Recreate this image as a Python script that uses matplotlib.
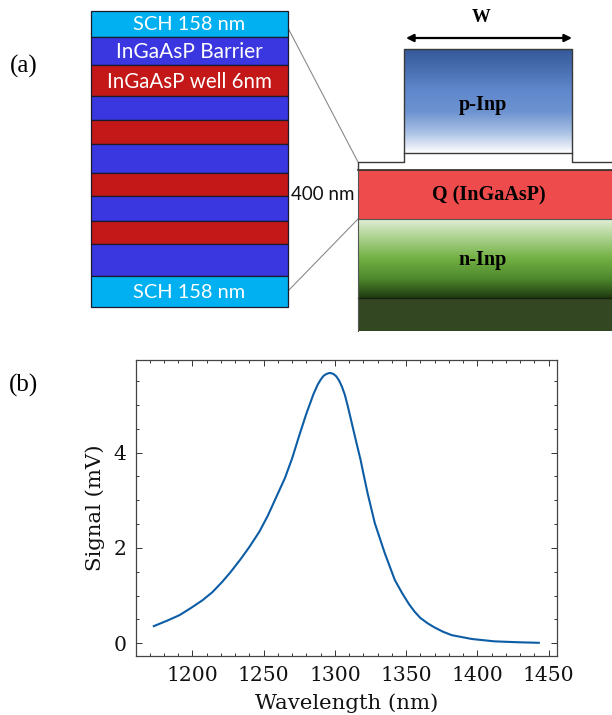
import numpy as np
import matplotlib
matplotlib.use("Agg")
import matplotlib.pyplot as plt
from matplotlib.colors import LinearSegmentedColormap
from matplotlib.patches import Rectangle
from matplotlib.ticker import MultipleLocator

W, H = 612, 715

# Spectrum
wavelength = [1173, 1182, 1191, 1199, 1207, 1214, 1221, 1227, 1234, 1240, 1247, 1253, 1258, 1265, 1270, 1275, 1280, 1285,
              1288, 1290, 1292, 1294, 1296, 1297, 1299, 1301, 1303, 1305, 1307, 1309, 1312, 1315,
              1318, 1320, 1323, 1328, 1335, 1342, 1347, 1352,
              1356, 1360, 1365, 1370, 1376, 1382, 1396, 1412, 1430, 1443]
signal = [0.36, 0.47, 0.59, 0.74, 0.90, 1.07, 1.29, 1.50, 1.77, 2.02, 2.34, 2.68, 3.01, 3.47, 3.88, 4.36, 4.82, 5.23,
          5.43, 5.53, 5.61, 5.65, 5.67, 5.67, 5.65, 5.6, 5.51, 5.38, 5.21, 4.98, 4.6, 4.22,
          3.85, 3.56, 3.14, 2.52, 1.89, 1.33, 1.06, 0.82,
          0.66, 0.53, 0.42, 0.33, 0.24, 0.17, 0.09, 0.04, 0.02, 0.01]
x_ticks = [1200, 1250, 1300, 1350, 1400, 1450]
y_ticks = [0, 2, 4]

# Schematic: layer stack (top edge, bottom edge, colour, label)
stack_edges = [11, 37, 65, 96, 120, 144, 173, 196, 221, 244, 276, 307]
SCH, BAR, WELL = "#00B0F0", "#3A36E0", "#C41818"
stack_colors = [SCH, BAR, WELL, BAR, WELL, BAR, WELL, BAR, WELL, BAR, SCH]
stack_labels = {0: "SCH 158 nm", 1: "InGaAsP Barrier", 2: "InGaAsP well 6nm", 10: "SCH 158 nm"}
p_stops = ["#35599A", "#4A70B2", "#6088CC", "#6C92D0", "#A8C0E4", "#FFFFFF"]
n_stops = ["#E0EED6", "#A8D08A", "#72B043", "#4F8A2E", "#1F3A10"]

plt.rcParams["font.family"] = "DejaVu Serif"
fig = plt.figure(figsize=(W / 100, H / 100), dpi=100)

# Pixel-space overlay for the diagram
bg = fig.add_axes([0, 0, 1, 1])
bg.set_xlim(0, W)
bg.set_ylim(H, 0)
bg.axis("off")


def grad(stops, x0, x1, y0, y1):
    cmap = LinearSegmentedColormap.from_list("g", stops)
    bg.imshow(np.linspace(0, 1, 256)[:, None], cmap=cmap, aspect="auto",
              extent=(x0, x1, y1, y0), zorder=1, interpolation="bilinear")


sx0, sx1 = 91, 288
label_sizes = {0: 14.4, 1: 15, 2: 14.8, 10: 14.4}
for i, c in enumerate(stack_colors):
    y0, y1 = stack_edges[i], stack_edges[i + 1]
    bg.add_patch(Rectangle((sx0, y0), sx1 - sx0, y1 - y0, fc=c, ec="#1a1a2a", lw=0.9, zorder=2))
    if i in stack_labels:
        bg.text((sx0 + sx1) / 2, (y0 + y1) / 2 + 1, stack_labels[i], color="white",
                ha="center", va="center", fontsize=label_sizes[i], family="Lato", zorder=3)

# Connector lines
bg.plot([288, 358], [28, 162], color="#8a8a8a", lw=0.8, zorder=1.5)
bg.plot([288, 358], [291, 219], color="#8a8a8a", lw=0.8, zorder=1.5)

# Device
rx0, rx1 = 358, 612
grad(p_stops, 404, 572, 49, 153)
bg.plot([358, 358, 404, 404, 572, 572, 612], [170, 162, 162, 49, 49, 162, 162],
        color="#3a3a3a", lw=1.0, zorder=3)
bg.plot([404, 572], [153, 153], color="#3a3a3a", lw=1.0, zorder=3)
bg.add_patch(Rectangle((rx0, 170), rx1 - rx0, 49, fc="#EE4C4C", ec="none", zorder=2))
bg.plot([rx0, rx1], [170, 170], color="#2a2a2a", lw=1.2, zorder=3)
bg.plot([rx0, rx1], [219, 219], color="#555555", lw=0.8, zorder=3)
grad(n_stops, rx0, rx1, 219, 298)
bg.add_patch(Rectangle((rx0, 298), rx1 - rx0, 33, fc="#334822", ec="none", zorder=2))
bg.plot([rx0, rx1], [298, 298], color="#152010", lw=1.0, zorder=3)
bg.plot([rx0, rx0], [170, 331], color="#555555", lw=0.8, zorder=3)
bg.annotate("", xy=(406, 38), xytext=(572, 38), zorder=4,
            arrowprops=dict(arrowstyle="<|-|>", color="black", lw=1.6, mutation_scale=11,
                            shrinkA=0, shrinkB=0))

serif = "Liberation Serif"
bg.text(481, 17, "W", family=serif, weight="bold", fontsize=13.5, ha="center", va="center")
bg.text(483, 105, "p-Inp", family=serif, weight="bold", fontsize=14.5, ha="center", va="center")
bg.text(489, 195, "Q (InGaAsP)", family=serif, weight="bold", fontsize=14.5, ha="center", va="center")
bg.text(483, 260, "n-Inp", family=serif, weight="bold", fontsize=14.5, ha="center", va="center")
bg.text(323, 194, "400 nm", family="Lato", fontsize=13.5, ha="center", va="center", color="#111111")
bg.text(24, 66, "(a)", family=serif, fontsize=18, ha="center", va="center")
bg.text(24, 385, "(b)", family=serif, fontsize=18, ha="center", va="center")

# Spectrum axes
left, right, top, bottom = 136.3, 557.3, 359.7, 656.0
ax = fig.add_axes([left / W, 1 - bottom / H, (right - left) / W, (bottom - top) / H])
ax.patch.set_alpha(0)
ax.plot(wavelength, signal, color="#0C5DA5", lw=1.5)
ax.set_xlim(1160.7, 1456)
ax.set_ylim(-0.267, 5.95)
ax.set_xticks(x_ticks)
ax.set_yticks(y_ticks)
ax.xaxis.set_minor_locator(MultipleLocator(10))
ax.yaxis.set_minor_locator(MultipleLocator(0.5))
ax.tick_params(which="both", direction="in", top=True, right=True, color="#333333", width=0.7)
ax.tick_params(which="major", length=4.5, labelsize=14.6, pad=7, labelcolor="#111111")
ax.tick_params(which="minor", length=2.3)
for s in ax.spines.values():
    s.set_linewidth(0.9)
    s.set_color("#444444")
ax.set_xlabel("Wavelength (nm)", fontsize=15.3, labelpad=6, color="#111111")
ax.set_ylabel("Signal (mV)", fontsize=15.3, labelpad=6, color="#111111")

fig.savefig("out.png", dpi=100)
